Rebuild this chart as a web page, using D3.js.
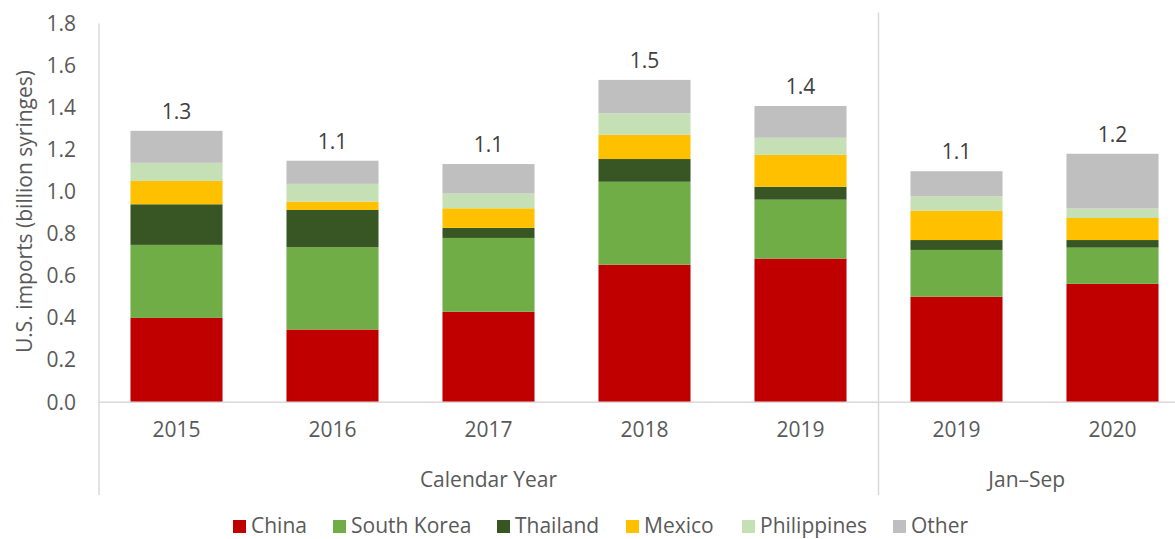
<!DOCTYPE html>
<html>
<head>
<meta charset="utf-8">
<script src="https://cdn.jsdelivr.net/npm/d3@7"></script>
<style>
  html, body { margin: 0; padding: 0; background: #fff; }
  svg { display: block; font-family: "Open Sans", sans-serif; }
</style>
</head>
<body>
<svg id="chart" width="1175" height="539"></svg>
<script>
// Categories: calendar years, then Jan–Sep year-to-date periods
const categories = ["2015", "2016", "2017", "2018", "2019", "2019 YTD", "2020 YTD"];
const tickLabels = ["2015", "2016", "2017", "2018", "2019", "2019", "2020"];
const groups = [
  { label: "Calendar Year", from: 0, to: 5 },
  { label: "Jan\u2013Sep", from: 5, to: 7 }
];

// Source countries (stack order bottom to top)
const seriesNames = ["China", "South Korea", "Thailand", "Mexico", "Philippines", "Other"];
const seriesColors = ["#c00000", "#70ad47", "#375623", "#ffc000", "#c5e0b4", "#bfbfbf"];

// U.S. imports, billion syringes
const china       = [0.401, 0.346, 0.430, 0.654, 0.683, 0.502, 0.563];
const southKorea  = [0.347, 0.391, 0.351, 0.394, 0.280, 0.222, 0.172];
const thailand    = [0.193, 0.177, 0.048, 0.108, 0.061, 0.047, 0.036];
const mexico      = [0.111, 0.040, 0.093, 0.115, 0.152, 0.140, 0.105];
const philippines = [0.086, 0.084, 0.070, 0.102, 0.081, 0.068, 0.045];
const other       = [0.152, 0.110, 0.140, 0.159, 0.151, 0.119, 0.260];

const yTicks = [0, 0.2, 0.4, 0.6, 0.8, 1.0, 1.2, 1.4, 1.6, 1.8];

const seriesValues = [china, southKorea, thailand, mexico, philippines, other];
const rows = categories.map((c, i) => {
  const r = { category: c };
  seriesNames.forEach((s, k) => { r[s] = seriesValues[k][i]; });
  return r;
});

const svg = d3.select("#chart");
const textColor = "#595959";
const lineColor = "#d9d9d9";
const fontSize = 21;

const x = d3.scaleBand()
  .domain(categories)
  .range([98.5, 1190.5])
  .paddingInner(0.41)
  .paddingOuter(0.205);

const y = d3.scaleLinear().domain([0, 1.8]).range([402.3, 23.5]);

const stack = d3.stack().keys(seriesNames);
const stacked = stack(rows);

// Bars
svg.append("g").selectAll("g")
  .data(stacked)
  .join("g")
    .attr("fill", (d, i) => seriesColors[i])
  .selectAll("rect")
  .data(d => d)
  .join("rect")
    .attr("x", d => x(d.data.category))
    .attr("width", x.bandwidth())
    .attr("y", d => y(d[1]))
    .attr("height", d => y(d[0]) - y(d[1]));

// Axis lines and category dividers
const bottom = 495;
svg.append("line")
  .attr("x1", 99).attr("x2", 1175)
  .attr("y1", y(0)).attr("y2", y(0))
  .attr("stroke", lineColor).attr("stroke-width", 1.5);
svg.append("line")
  .attr("x1", 99).attr("x2", 99)
  .attr("y1", y(1.8)).attr("y2", bottom)
  .attr("stroke", lineColor).attr("stroke-width", 1.5);
const sepX = x(categories[5]) - x.step() * x.paddingInner() / 2;
svg.append("line")
  .attr("x1", sepX).attr("x2", sepX)
  .attr("y1", 12.5).attr("y2", bottom)
  .attr("stroke", lineColor).attr("stroke-width", 1.5);

// Y axis tick labels
const yAxis = d3.axisLeft(y).tickValues(yTicks).tickFormat(d3.format(".1f")).tickSize(0).tickPadding(0);
const yg = svg.append("g").attr("transform", "translate(76,0)").call(yAxis);
yg.select(".domain").remove();
yg.selectAll("text")
  .attr("fill", textColor)
  .style("font-family", "'Open Sans', sans-serif")
  .style("font-size", fontSize + "px");

// X axis tick labels
const xAxis = d3.axisBottom(x).tickFormat((d, i) => tickLabels[i]).tickSize(0).tickPadding(0);
const xg = svg.append("g").attr("transform", "translate(0,422)").call(xAxis);
xg.select(".domain").remove();
xg.selectAll("text")
  .attr("fill", textColor)
  .style("font-family", "'Open Sans', sans-serif")
  .style("font-size", fontSize + "px");

// Group labels
svg.append("g").selectAll("text")
  .data(groups)
  .join("text")
    .attr("x", g => {
      const a = x(categories[g.from]) - x.step() * x.paddingInner() / 2;
      const b = g.to < categories.length ? x(categories[g.to]) - x.step() * x.paddingInner() / 2 : 1175;
      return (a + b) / 2;
    })
    .attr("y", 487)
    .attr("text-anchor", "middle")
    .attr("fill", textColor)
    .style("font-size", fontSize + "px")
    .text(g => g.label);

// Total labels
const fmt = d3.format(".1f");
svg.append("g").selectAll("text")
  .data(rows)
  .join("text")
    .attr("x", d => x(d.category) + x.bandwidth() / 2)
    .attr("y", d => y(d3.sum(seriesNames, s => d[s])) - 12)
    .attr("text-anchor", "middle")
    .attr("fill", "#404040")
    .style("font-size", fontSize + "px")
    .text(d => fmt(d3.sum(seriesNames, s => d[s])));

// Y axis title
svg.append("text")
  .attr("transform", "translate(32,211.5) rotate(-90)")
  .attr("text-anchor", "middle")
  .attr("fill", textColor)
  .style("font-size", fontSize + "px")
  .text("U.S. imports (billion syringes)");

// Legend
const legendX = [233, 333, 497, 626, 742, 893];
const legend = svg.append("g").selectAll("g")
  .data(seriesNames)
  .join("g")
    .attr("transform", (d, i) => `translate(${legendX[i]},520)`);
legend.append("rect")
  .attr("width", 13).attr("height", 13)
  .attr("fill", (d, i) => seriesColors[i]);
legend.append("text")
  .attr("x", 18).attr("y", 13)
  .attr("fill", textColor)
  .style("font-size", fontSize + "px")
  .text(d => d);
</script>
</body>
</html>
